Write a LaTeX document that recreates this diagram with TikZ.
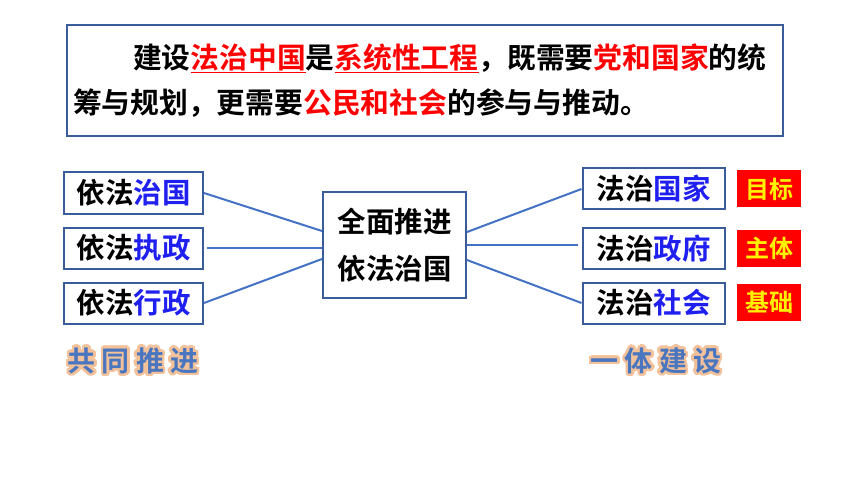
\documentclass[tikz,border=0pt]{standalone}
\usepackage{fontspec}
\setmainfont{Noto Sans CJK SC}[BoldFont={Noto Sans CJK SC Bold}]
\usepackage{xcolor}
\usepackage[copies]{contour}
\usepackage{tikz}
\usetikzlibrary{positioning,calc}
\definecolor{framec}{HTML}{3B5C9A}
\definecolor{linkc}{HTML}{4472C4}
\definecolor{keyc}{HTML}{1F1FF0}
\definecolor{glowc}{HTML}{F4C29A}
\definecolor{callc}{HTML}{4A76C0}
\newcommand{\kw}[1]{\textcolor{keyc}{#1}}
\newcommand{\hl}[1]{\textcolor{red}{#1}}

\begin{document}
\begin{tikzpicture}[
	x=1pt, y=-1pt,
	font=\bfseries\fontsize{28.5}{34}\selectfont,
	item/.style={
		draw=framec,
		line width=2pt,
		inner sep=0pt,
		minimum width=139pt,
		minimum height=41pt
	},
	tag/.style={
		fill=red,
		text=yellow,
		inner sep=0pt,
		minimum width=64pt,
		minimum height=37pt,
		font=\bfseries\fontsize{24}{28}\selectfont
	},
	link/.style={
		draw=linkc,
		line width=2pt
	},
	glow/.style={
		text=callc,
		font=\bfseries\fontsize{28}{34}\selectfont\addfontfeature{LetterSpace=22}
	}
	]
	\useasboundingbox[fill=white] (0,0) rectangle (860,484);
	
	\node[draw=framec, line width=2pt, minimum width=716pt, minimum height=111pt,
		text width=704pt, inner sep=0pt, align=left,
		font=\bfseries\fontsize{28.8}{45}\selectfont] at (425, 80.5)
	(lead) {\hspace*{60pt}建设\hl{\underline{法治中国}}是\hl{\underline{系统性工程}}，既需要\hl{党和国家}的统\\
		筹与规划，更需要\hl{公民和社会}的参与与推动。};
	
	\node[item] at (133.5, 193) (l1) {依法\kw{治国}};
	\node[item] at (133.5, 248) (l2) {依法\kw{执政}};
	\node[item] at (133.5, 303) (l3) {依法\kw{行政}};
	
	\node[draw=framec, line width=2pt, minimum width=143pt, minimum height=106pt,
		align=center, font=\bfseries\fontsize{28.5}{47}\selectfont] at (394.5, 245)
	(core) {全面推进\\依法治国};
	
	\node[item, minimum width=142pt] at (653.5, 189) (r1) {法治\kw{国家}};
	\node[item, minimum width=142pt] at (653.5, 248.5) (r2) {法治\kw{政府}};
	\node[item, minimum width=142pt] at (653.5, 303) (r3) {法治\kw{社会}};
	
	\node[tag] at (769, 189) (t1) {目标};
	\node[tag] at (769, 248.5) (t2) {主体};
	\node[tag] at (769, 302.5) (t3) {基础};
	
	\contourlength{2.5pt}
	\contournumber{32}
	\node[glow] at (133, 362) (gl) {\contour{glowc}{共同推进}};
	\node[glow] at (656, 362) (gr) {\contour{glowc}{一体建设}};
	
	\draw[link] (l1.east) -- ([yshift=14pt]core.west);
	\draw[link] ([xshift=3pt]l2.east) -- (l2.east -| core.west);
	\draw[link] (l3.east) -- ([yshift=-14pt]core.west);
	\draw[link] ([yshift=13pt]core.east) -- (r1.west);
	\draw[link, shorten >=4pt] (core.east) -- (core.east -| r2.west);
	\draw[link] ([yshift=-15pt]core.east) -- (r3.west);
	
\end{tikzpicture}
\end{document}
